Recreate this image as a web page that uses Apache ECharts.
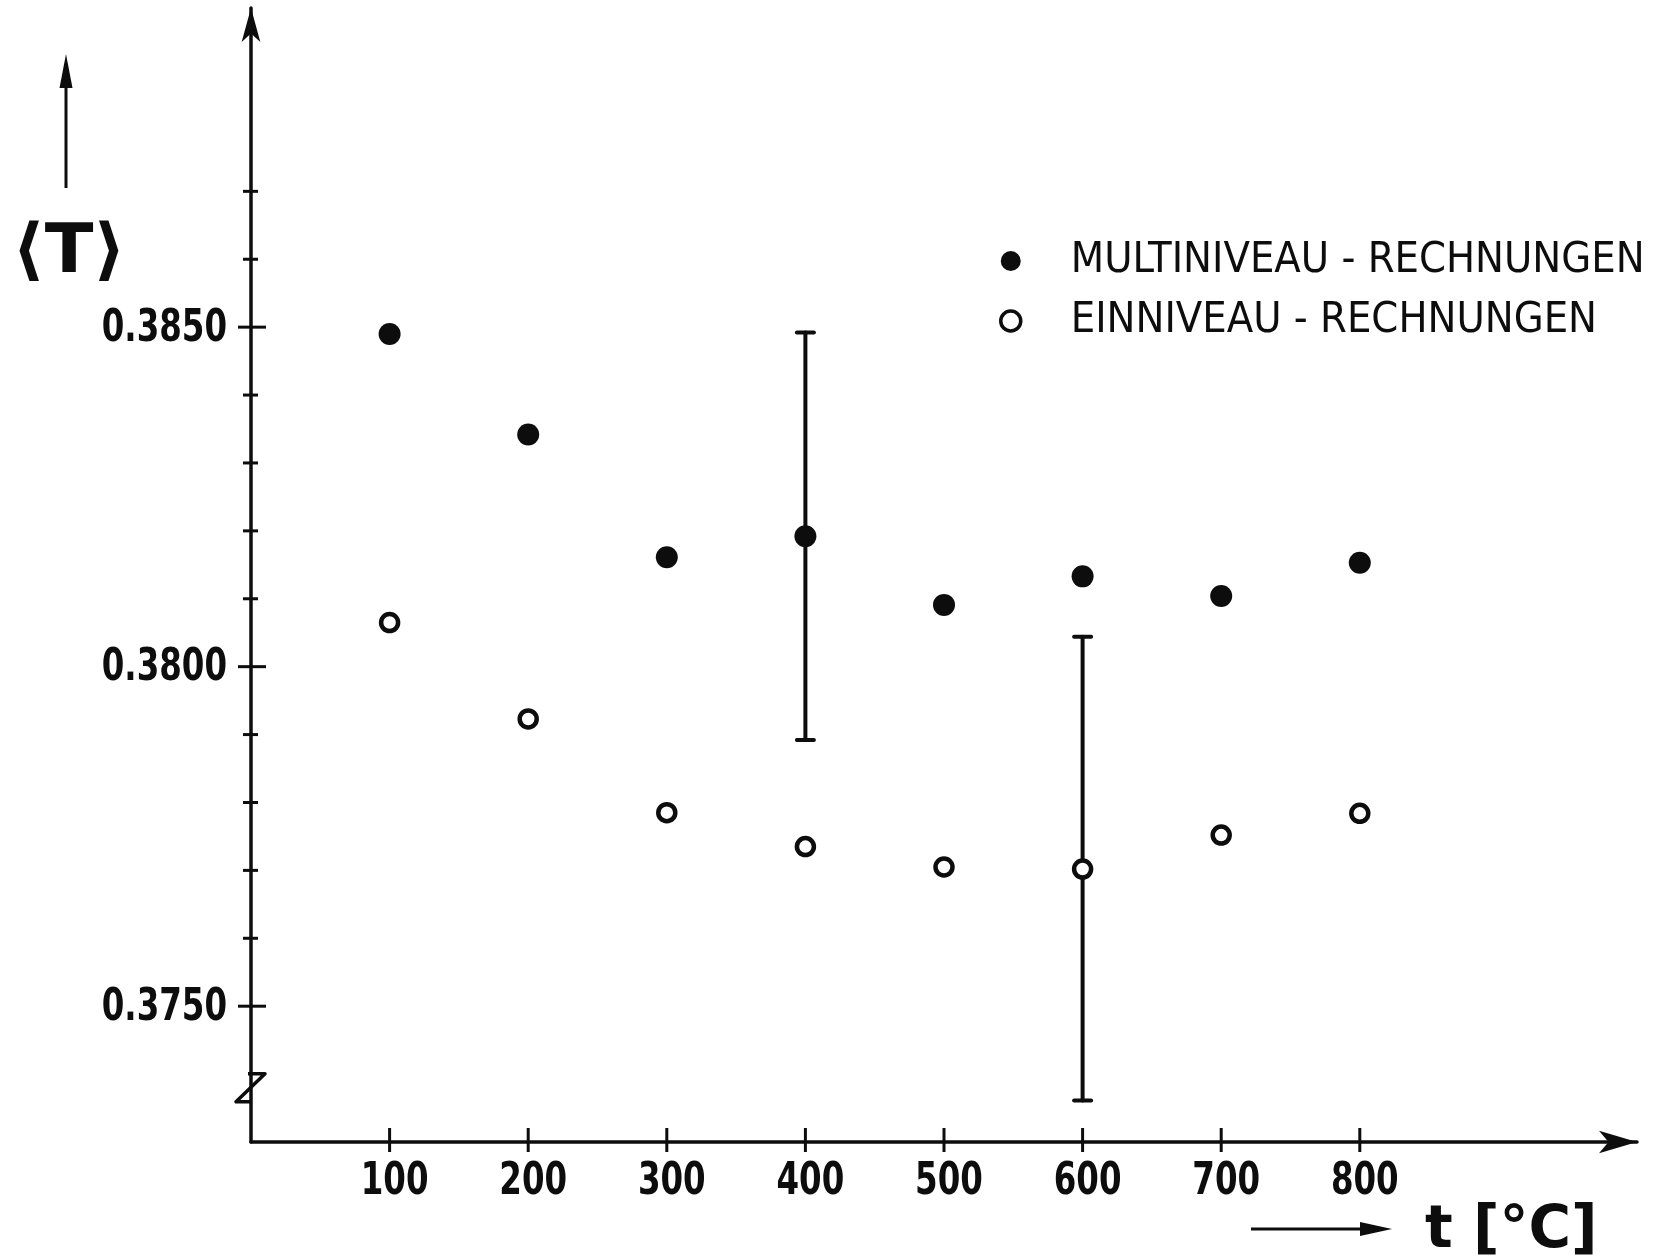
<!DOCTYPE html>
<html><head><meta charset="utf-8">
<script src="https://cdn.jsdelivr.net/npm/echarts/dist/echarts.min.js"></script>
<style>html,body{margin:0;padding:0;background:#fff}#c{width:1679px;height:1260px}</style>
</head><body><div id="c"></div>
<script>
// ---- data ----
const temps = [100, 200, 300, 400, 500, 600, 700, 800];
const multiValues = [0.38490, 0.38342, 0.38161, 0.38192, 0.38091, 0.38133, 0.38104, 0.38153];
const einValues   = [0.38065, 0.37923, 0.37785, 0.37735, 0.37705, 0.37702, 0.37752, 0.37784];
const errorBars = [[400, 0.37892, 0.38492], [600, 0.37361, 0.38044]]; // [t, low, high]
const xTickValues = [100, 200, 300, 400, 500, 600, 700, 800];
const xTickLabels = ['100', '200', '300', '400', '500', '600', '700', '800'];
const yTickValues = [0.375, 0.376, 0.377, 0.378, 0.379, 0.380, 0.381, 0.382, 0.383, 0.384, 0.385, 0.386, 0.387];
const yTickLabels = ['0.3750', '0.3800', '0.3850'];
const legendNames = ['MULTINIVEAU - RECHNUNGEN', 'EINNIVEAU - RECHNUNGEN'];
const yAxisTitle = '⟨T⟩';
const xAxisTitle = 't [°C]';
const xMin = 0, xMax = 1000, yMin = 0.373, yMax = 0.3897;
const yBreakValue = 0.3738;

const INK = '#0d0d0d';
const COND = '"DejaVu Sans Condensed", "DejaVu Sans", sans-serif';
const LABEL_FONT = 'bold 44px ' + COND;

const chart = echarts.init(document.getElementById('c'), null, {renderer: 'canvas'});

const option = {
  backgroundColor: '#ffffff',
  animation: false,
  grid: {left: 251, right: 42, top: 8, bottom: 118, containLabel: false, outerBoundsMode: 'none'},
  xAxis: {
    type: 'value', min: xMin, max: xMax, interval: 100,
    splitLine: {show: false},
    axisTick: {show: false},
    axisLabel: {show: false},
    axisLine: {onZero: false, lineStyle: {color: INK, width: 3.5},
      symbol: ['none', 'arrow'], symbolSize: [17, 38]}
  },
  yAxis: {
    type: 'value', min: yMin, max: yMax, interval: 0.001,
    splitLine: {show: false},
    axisTick: {show: false},
    axisLabel: {show: false},
    axisLine: {onZero: false, lineStyle: {color: INK, width: 3.5},
      symbol: ['none', 'arrow'], symbolSize: [14, 34]}
  },
  legend: {
    orient: 'vertical', left: 994, top: 234,
    itemWidth: 20, itemHeight: 20, itemGap: 16,
    textStyle: {fontSize: 43, lineHeight: 44, color: INK, fontFamily: COND, padding: [0, 0, 0, 45]},
    data: [
      {name: legendNames[0], icon: 'circle'},
      {name: legendNames[1], icon: 'circle', itemStyle: {color: '#fff', borderColor: INK, borderWidth: 3.5}}
    ]
  },
  graphic: [
    {type: 'text', left: 12, top: 220, scaleX: 1.05, style: {text: yAxisTitle, fill: INK, font: 'bold 68px "DejaVu Sans", sans-serif'}},
    {type: 'line', shape: {x1: 66, y1: 188, x2: 66, y2: 84}, style: {stroke: INK, lineWidth: 3}},
    {type: 'polygon', shape: {points: [[66, 54], [59.5, 88], [72.5, 88]]}, style: {fill: INK}},
    {type: 'line', shape: {x1: 1251, y1: 1229, x2: 1366, y2: 1229}, style: {stroke: INK, lineWidth: 3}},
    {type: 'polygon', shape: {points: [[1392, 1229], [1360, 1222], [1360, 1236]]}, style: {fill: INK}},
    {type: 'text', left: 1425, top: 1203, style: {text: xAxisTitle, fill: INK, font: 'bold 58px "DejaVu Sans", sans-serif'}}
  ],
  series: [
    { // x-axis crossing ticks
      type: 'custom', silent: true, clip: false, z: 3,
      data: xTickValues.map(v => [v, yMin]),
      encode: {x: 0, y: 1},
      renderItem: (params, api) => {
        const p = api.coord([api.value(0), api.value(1)]);
        return {type: 'line', shape: {x1: p[0], y1: p[1] - 14, x2: p[0], y2: p[1] + 10},
          style: {stroke: INK, lineWidth: 3}};
      }
    },
    { // x-axis tick labels
      type: 'custom', silent: true, clip: false, z: 3,
      data: xTickValues.map(v => [v, yMin]),
      encode: {x: 0, y: 1},
      renderItem: (params, api) => {
        const p = api.coord([api.value(0), api.value(1)]);
        return {type: 'text', x: p[0] + 5, y: p[1] + 19, scaleX: 0.82,
          style: {text: xTickLabels[params.dataIndex], font: LABEL_FONT, fill: INK, align: 'center', verticalAlign: 'top'}};
      }
    },
    { // y-axis crossing ticks (major where labelled)
      type: 'custom', silent: true, clip: false, z: 3,
      data: yTickValues.map(v => [xMin, v]),
      encode: {x: 0, y: 1},
      renderItem: (params, api) => {
        const v = api.value(1);
        const p = api.coord([api.value(0), v]);
        const major = yTickLabels.includes(v.toFixed(4));
        const l = major ? 13 : 8, r = major ? 15 : 7;
        return {type: 'line', shape: {x1: p[0] - l, y1: p[1], x2: p[0] + r, y2: p[1]},
          style: {stroke: INK, lineWidth: 3}};
      }
    },
    { // y-axis tick labels
      type: 'custom', silent: true, clip: false, z: 3,
      data: yTickLabels.map(s => [xMin, Number(s)]),
      encode: {x: 0, y: 1},
      renderItem: (params, api) => {
        const p = api.coord([api.value(0), api.value(1)]);
        return {type: 'text', x: p[0] - 24, y: p[1] + 2, scaleX: 0.82,
          style: {text: yTickLabels[params.dataIndex], font: LABEL_FONT, fill: INK, align: 'right', verticalAlign: 'middle'}};
      }
    },
    { // axis break mark
      type: 'custom', silent: true, clip: false, z: 3,
      data: [[xMin, yBreakValue]],
      encode: {x: 0, y: 1},
      renderItem: (params, api) => {
        const p = api.coord([api.value(0), api.value(1)]);
        return {type: 'polyline', shape: {points: [
            [p[0] - 3, p[1] - 14], [p[0] + 14, p[1] - 14], [p[0] - 15, p[1] + 14], [p[0] + 1, p[1] + 14]]},
          style: {stroke: INK, lineWidth: 3.5, fill: null, lineJoin: 'round'}};
      }
    },
    { // error bars
      type: 'custom', silent: true, clip: false, z: 2,
      data: errorBars,
      encode: {x: 0, y: [1, 2]},
      renderItem: (params, api) => {
        const x = api.value(0);
        const lo = api.coord([x, api.value(1)]);
        const hi = api.coord([x, api.value(2)]);
        const st = {stroke: INK, lineWidth: 4, lineCap: 'round'};
        return {type: 'group', children: [
          {type: 'line', shape: {x1: hi[0], y1: hi[1], x2: lo[0], y2: lo[1]}, style: st},
          {type: 'line', shape: {x1: hi[0] - 8.5, y1: hi[1], x2: hi[0] + 8.5, y2: hi[1]}, style: st},
          {type: 'line', shape: {x1: lo[0] - 8.5, y1: lo[1], x2: lo[0] + 8.5, y2: lo[1]}, style: st}
        ]};
      }
    },
    {
      name: legendNames[0], type: 'scatter', z: 5,
      data: temps.map((t, i) => [t, multiValues[i]]),
      symbol: 'circle', symbolSize: 22,
      itemStyle: {color: INK, opacity: 1}
    },
    {
      name: legendNames[1], type: 'scatter', z: 5,
      data: temps.map((t, i) => [t, einValues[i]]),
      symbol: 'circle', symbolSize: 17,
      itemStyle: {color: '#ffffff', borderColor: INK, borderWidth: 4.5, opacity: 1}
    }
  ]
};
chart.setOption(option);
</script>
</body></html>
